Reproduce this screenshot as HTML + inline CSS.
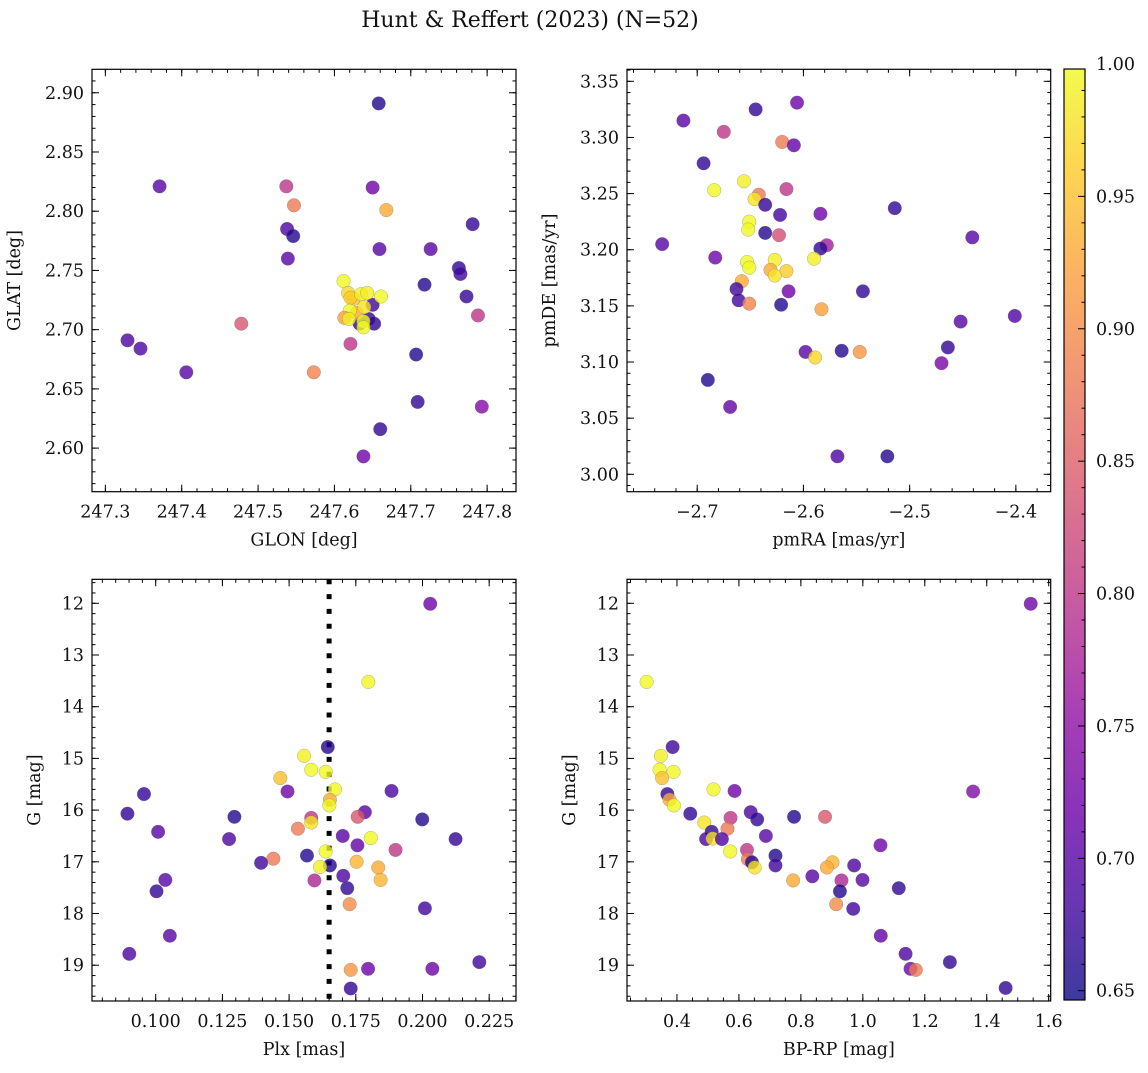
<!DOCTYPE html>
<html><head><meta charset="utf-8"><style>
body{margin:0;background:#fff}
svg text{font-family:"DejaVu Serif","Liberation Serif",serif;fill:#111}
</style></head><body>
<svg id="fig" xmlns="http://www.w3.org/2000/svg" width="1148" height="1068" viewBox="0 0 1148 1068">
<rect width="1148" height="1068" fill="#fff"/>
<text x="530" y="27" font-size="22" text-anchor="middle">Hunt &amp; Reffert (2023) (N=52)</text>
</svg>
<script>
// ---- data: panel 1 (GLON / GLAT) ----
const glon=[247.658,247.371,247.537,247.650,247.547,247.668,247.781,247.538,247.546,247.659,247.726,247.539,247.763,247.765,247.718,247.773,247.788,247.478,247.621,247.329,247.346,247.707,247.406,247.573,247.709,247.793,247.660,247.638,247.650,247.633,247.652,247.645,247.629,247.625,247.612,247.618,247.621,247.635,247.643,247.661,247.639,247.620,247.613,247.619,247.638,247.638];
const glat=[2.891,2.821,2.821,2.820,2.805,2.801,2.789,2.785,2.779,2.768,2.768,2.760,2.752,2.747,2.738,2.728,2.712,2.705,2.688,2.691,2.684,2.679,2.664,2.664,2.639,2.635,2.616,2.593,2.721,2.705,2.705,2.709,2.714,2.726,2.741,2.731,2.727,2.730,2.731,2.728,2.719,2.716,2.710,2.709,2.707,2.702];
const prob1=[0.66,0.70,0.80,0.72,0.88,0.93,0.67,0.69,0.66,0.70,0.70,0.70,0.67,0.68,0.66,0.67,0.80,0.84,0.80,0.69,0.69,0.66,0.70,0.89,0.67,0.74,0.67,0.72,0.68,0.67,0.67,0.67,0.93,0.95,1.0,0.97,0.96,0.99,0.99,1.0,0.98,1.0,0.92,0.99,1.0,1.0];
// ---- data: panel 2 (pmRA / pmDE) ----
const pmra=[-2.606,-2.645,-2.713,-2.675,-2.620,-2.609,-2.694,-2.656,-2.684,-2.616,-2.642,-2.646,-2.636,-2.514,-2.622,-2.584,-2.651,-2.652,-2.636,-2.623,-2.441,-2.733,-2.578,-2.584,-2.683,-2.590,-2.653,-2.627,-2.651,-2.631,-2.616,-2.627,-2.658,-2.663,-2.544,-2.614,-2.661,-2.651,-2.621,-2.583,-2.401,-2.452,-2.464,-2.564,-2.547,-2.598,-2.589,-2.470,-2.690,-2.669,-2.568,-2.521];
const pmde=[3.331,3.325,3.315,3.305,3.296,3.293,3.277,3.261,3.253,3.254,3.249,3.245,3.240,3.237,3.231,3.232,3.225,3.218,3.215,3.213,3.211,3.205,3.204,3.201,3.193,3.192,3.189,3.191,3.184,3.182,3.181,3.177,3.172,3.165,3.163,3.163,3.155,3.152,3.151,3.147,3.141,3.136,3.113,3.110,3.109,3.109,3.104,3.099,3.084,3.060,3.016,3.016];
const prob2=[0.72,0.67,0.70,0.80,0.88,0.71,0.67,0.99,1.0,0.80,0.88,0.98,0.67,0.67,0.68,0.72,1.0,1.0,0.66,0.83,0.70,0.70,0.77,0.67,0.72,0.99,1.0,0.99,1.0,0.93,0.96,0.98,0.93,0.68,0.67,0.72,0.68,0.89,0.66,0.92,0.69,0.70,0.67,0.66,0.91,0.70,0.97,0.73,0.66,0.71,0.69,0.66];
// ---- data: panel 3 (Plx / G) ----
const plx=[0.2029,0.1797,0.1645,0.1556,0.1583,0.1637,0.1467,0.1672,0.1494,0.1884,0.0956,0.1653,0.1651,0.0894,0.1295,0.1784,0.1757,0.1583,0.1583,0.1999,0.1533,0.1009,0.1701,0.1806,0.1275,0.2124,0.1756,0.1899,0.1637,0.1567,0.1441,0.1395,0.1753,0.1653,0.1616,0.1834,0.1703,0.1036,0.1595,0.1843,0.1718,0.1003,0.1727,0.2009,0.1053,0.0901,0.1731,0.1796,0.2037,0.2213,0.1731];
const gmag3=[12.01,13.52,14.78,14.95,15.22,15.26,15.38,15.60,15.64,15.63,15.69,15.80,15.91,16.07,16.13,16.04,16.13,16.15,16.24,16.18,16.36,16.42,16.50,16.54,16.56,16.56,16.68,16.77,16.80,16.88,16.94,17.02,17.00,17.07,17.10,17.11,17.27,17.35,17.36,17.35,17.51,17.57,17.82,17.90,18.43,18.78,19.09,19.07,19.07,18.94,19.45];
const prob3=[0.72,1.0,0.66,0.99,1.0,1.0,0.95,1.0,0.72,0.69,0.67,0.93,1.0,0.67,0.66,0.70,0.84,0.80,0.98,0.66,0.88,0.70,0.70,1.0,0.69,0.67,0.71,0.80,1.0,0.66,0.88,0.68,0.94,0.66,0.99,0.93,0.69,0.70,0.78,0.94,0.67,0.67,0.90,0.68,0.70,0.69,0.91,0.72,0.72,0.68,0.67];
const plxRef=[0.165];
// ---- data: panel 4 (BP-RP / G) ----
const bprp=[1.542,0.302,0.386,0.348,0.344,0.389,0.352,0.518,0.586,1.356,0.369,0.376,0.390,0.443,0.778,0.638,0.878,0.573,0.488,0.659,0.563,0.687,0.512,0.494,0.515,0.545,1.057,0.572,0.626,0.718,0.629,0.642,0.651,0.718,0.902,0.884,0.972,0.775,0.837,0.931,0.999,0.926,1.116,0.914,0.969,1.058,1.138,1.154,1.171,1.281,1.461];
const gmag4=[12.01,13.52,14.78,14.95,15.22,15.26,15.38,15.60,15.63,15.64,15.69,15.80,15.91,16.07,16.13,16.04,16.13,16.15,16.24,16.18,16.36,16.50,16.42,16.56,16.55,16.56,16.68,16.80,16.77,16.88,16.95,17.01,17.11,17.07,17.01,17.11,17.07,17.36,17.28,17.36,17.35,17.57,17.51,17.82,17.91,18.43,18.78,19.07,19.09,18.94,19.44];
const prob4=[0.72,1.0,0.68,0.99,1.0,1.0,0.95,1.0,0.72,0.74,0.67,0.93,1.0,0.67,0.66,0.69,0.84,0.80,0.98,0.67,0.88,0.70,0.67,0.69,0.98,0.69,0.72,1.0,0.80,0.66,0.88,0.66,0.98,0.68,0.94,0.93,0.69,0.93,0.70,0.78,0.70,0.66,0.67,0.90,0.68,0.71,0.69,0.72,0.88,0.67,0.67];
// ---- tick labels ----
const xt1=[247.3,247.4,247.5,247.6,247.7,247.8];
const yt1=[2.60,2.65,2.70,2.75,2.80,2.85,2.90];
const xt2=[-2.7,-2.6,-2.5,-2.4];
const yt2=[3.00,3.05,3.10,3.15,3.20,3.25,3.30,3.35];
const xt3=[0.100,0.125,0.150,0.175,0.200,0.225];
const ytG=[12,13,14,15,16,17,18,19];
const xt4=[0.4,0.6,0.8,1.0,1.2,1.4,1.6];
const cbt=[0.65,0.70,0.75,0.80,0.85,0.90,0.95,1.00];
const VMIN=0.6465, VMAX=0.9981;

const NS="http://www.w3.org/2000/svg";
const FS=17.5;
const svg=document.getElementById('fig');
function mk(tag,attrs,parent){const e=document.createElementNS(NS,tag);for(const k in attrs)e.setAttribute(k,attrs[k]);(parent||svg).appendChild(e);return e;}
const stops=[[13,8,135],[65,4,157],[106,0,168],[143,13,164],[177,42,144],[204,71,120],[225,100,98],[242,132,75],[252,166,54],[252,206,37],[240,249,33]];
function plasma(t){t=Math.max(0,Math.min(1,t))*10;const i=Math.min(9,Math.floor(t)),f=t-i;const a=stops[i],b=stops[i+1];return 'rgb('+a.map((v,k)=>Math.round(v+(b[k]-v)*f)).join(',')+')';}
function col(p){return plasma((p-VMIN)/(VMAX-VMIN));}

function panel(o){
  const {L,R,T,B,x0,x1,y0,y1,inv}=o;
  const sx=v=>L+(v-x0)/(x1-x0)*(R-L);
  const sy=inv?(v=>T+(v-y0)/(y1-y0)*(B-T)):(v=>B-(v-y0)/(y1-y0)*(B-T));
  const g=mk('g',{});
  
  
  const tk=(vals,len,axis)=>{vals.forEach(v=>{
    if(axis==='x'){const x=sx(v);if(x<L-0.1||x>R+0.1)return;
      mk('line',{x1:x,x2:x,y1:B,y2:B-len,stroke:'#000','stroke-width':1},g);
      mk('line',{x1:x,x2:x,y1:T,y2:T+len,stroke:'#000','stroke-width':1},g);}
    else{const y=sy(v);if(y<T-0.1||y>B+0.1)return;
      mk('line',{x1:L,x2:L+len,y1:y,y2:y,stroke:'#000','stroke-width':1},g);
      mk('line',{x1:R,x2:R-len,y1:y,y2:y,stroke:'#000','stroke-width':1},g);}
  });};
  const rng=(a,b,s)=>{const r=[];for(let v=Math.ceil(a/s-1e-6);v*s<=b+1e-9;v++)r.push(v*s);return r;};
  tk(rng(Math.min(x0,x1),Math.max(x0,x1),o.xmin),3.5,'x');
  tk(rng(Math.min(y0,y1),Math.max(y0,y1),o.ymin),3.5,'y');
  tk(o.xt,7,'x');tk(o.yt,7,'y');
  o.xt.forEach(v=>{const t=mk('text',{x:sx(v),y:B+26,'font-size':FS,'text-anchor':'middle'},g);t.textContent=o.xf(v);
    
    });
  o.yt.forEach(v=>{const t=mk('text',{x:L-8,y:sy(v)+6,'font-size':FS,'text-anchor':'end'},g);t.textContent=o.yf(v);
    
    });
  const xl=mk('text',{x:(L+R)/2,y:B+54,'font-size':FS,'text-anchor':'middle'},g);xl.textContent=o.xlab;
  
  
  const yl=mk('text',{x:0,y:0,'font-size':FS,'text-anchor':'middle',transform:`translate(${o.ylx},${(T+B)/2}) rotate(-90)`},g);yl.textContent=o.ylab;
  
  
  if(o.vline){o.vline.forEach(v=>{const l=mk('line',{x1:sx(v),x2:sx(v),y1:T,y2:B,stroke:'#000','stroke-width':5,'stroke-dasharray':'5 9.8'},g);
    
    });}
  o.xs.forEach((v,i)=>{const c=mk('circle',{cx:sx(v),cy:sy(o.ys[i]),r:6.8,fill:col(o.ps[i]),'fill-opacity':0.8,stroke:'#666','stroke-opacity':0.5,'stroke-width':0.5},g);
    
    });
  mk('rect',{x:L,y:T,width:R-L,height:B-T,fill:'none',stroke:'#000','stroke-width':1.2},g);
}
const f2=v=>v.toFixed(2), f1=v=>v.toFixed(1), f3=v=>v.toFixed(3), fm=v=>(v<0?'\u2212':'')+Math.abs(v).toFixed(1), f0=v=>String(v);
panel({name:'glon-glat-panel',L:92,R:516,T:69.3,B:491.7,x0:247.2825,x1:247.8378,y0:2.5632,y1:2.9198,xs:glon,ys:glat,ps:prob1,xt:xt1,yt:yt1,xmin:0.02,ymin:0.01,xf:f1,yf:f2,xlab:'GLON [deg]',ylab:'GLAT [deg]',ylx:20});
panel({name:'pm-panel',L:627,R:1050.7,T:69.3,B:491.7,x0:-2.7661,x1:-2.3672,y0:2.9845,y1:3.3607,xs:pmra,ys:pmde,ps:prob2,xt:xt2,yt:yt2,xmin:0.02,ymin:0.01,xf:fm,yf:f2,xlab:'pmRA [mas/yr]',ylab:'pmDE [mas/yr]',ylx:555});
panel({name:'plx-g-panel',L:92,R:516,T:579.3,B:1001,x0:0.07612,x1:0.23505,y0:11.536,y1:19.692,inv:true,xs:plx,ys:gmag3,ps:prob3,xt:xt3,yt:ytG,xmin:0.005,ymin:0.2,xf:f3,yf:f0,xlab:'Plx [mas]',ylab:'G [mag]',ylx:40,vline:plxRef});
panel({name:'cmd-panel',L:627,R:1050.7,T:579.3,B:1001,x0:0.2387,x1:1.6065,y0:11.536,y1:19.692,inv:true,xs:bprp,ys:gmag4,ps:prob4,xt:xt4,yt:ytG,xmin:0.05,ymin:0.2,xf:f1,yf:f0,xlab:'BP-RP [mag]',ylab:'G [mag]',ylx:575});

// colorbar
(function(){
  const L=1064,R=1085,T=69,B=1000;
  const g=mk('g',{});
  
  
  const defs=mk('defs',{},g);
  const lg=mk('linearGradient',{id:'cbg',x1:0,y1:1,x2:0,y2:0},defs);
  for(let i=0;i<=20;i++){mk('stop',{offset:i/20,'stop-color':plasma(i/20),'stop-opacity':0.8},lg);}
  mk('rect',{x:L,y:T,width:R-L,height:B-T,fill:'url(#cbg)'},g);
  const sy=v=>B-(v-VMIN)/(VMAX-VMIN)*(B-T);
  for(let k=65;k<=100;k++){const y=sy(k/100);if(y<T-0.5)continue;const major=k%5===0;
    mk('line',{x1:R,x2:R-(major?7:3.5),y1:y,y2:y,stroke:'#000','stroke-width':1},g);}
  cbt.forEach(v=>{const t=mk('text',{x:1096,y:sy(v)+6,'font-size':FS},g);t.textContent=v.toFixed(2);
    
    });
  mk('rect',{x:L,y:T,width:R-L,height:B-T,fill:'none',stroke:'#000','stroke-width':1.2},g);
})();
</script>
</body></html>
